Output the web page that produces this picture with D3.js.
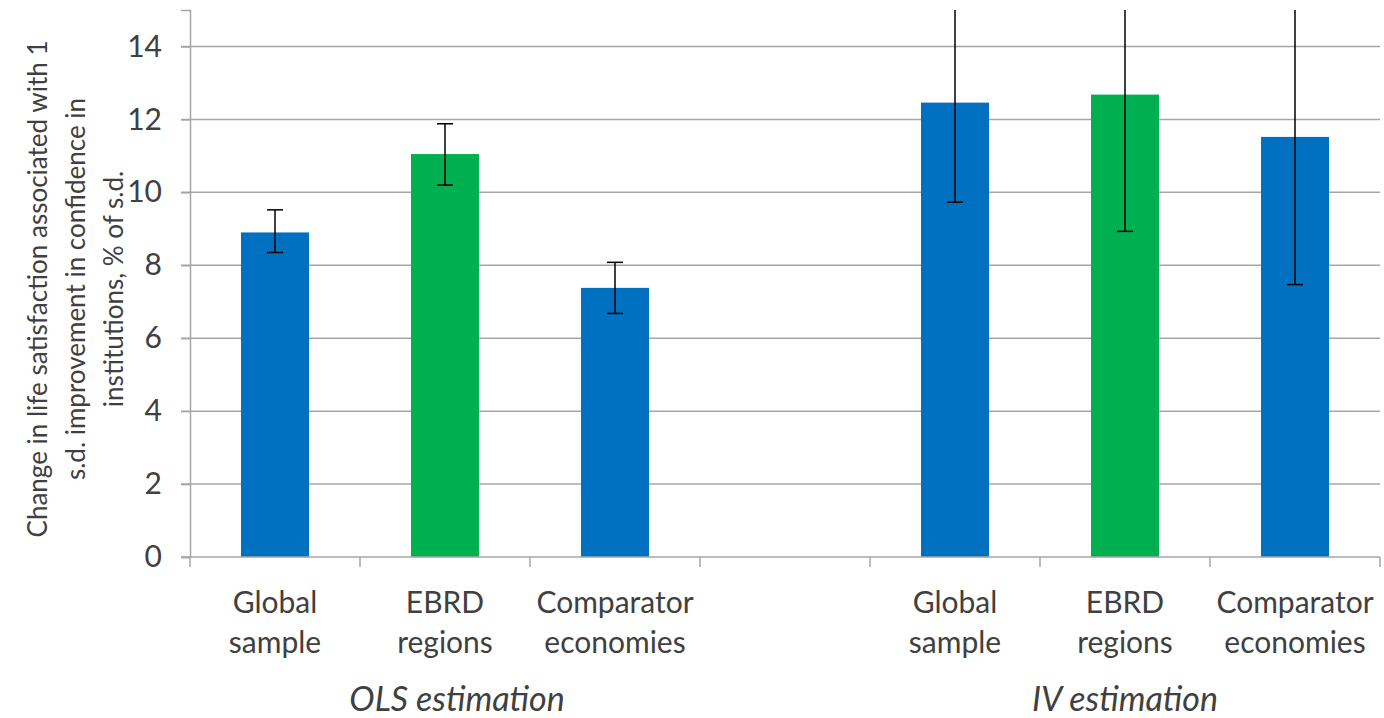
<!DOCTYPE html>
<html>
<head>
<meta charset="utf-8">
<script src="https://cdn.jsdelivr.net/npm/d3@7"></script>
<style>
  body { margin: 0; background: #fff; }
  text { font-family: Lato, "Open Sans", sans-serif; fill: #404040; }
</style>
</head>
<body>
<div id="okvir"></div>
<script>
// podaci
const kategorije = ["Global sample", "EBRD regions", "Comparator economies", "", "Global sample", "EBRD regions", "Comparator economies"]
const vrijednosti = [8.9, 11.05, 7.38, null, 12.46, 12.68, 11.52]
const greskaDolje = [8.35, 10.2, 6.68, null, 9.73, 8.93, 7.47]
const greskaGore = [9.52, 11.88, 8.08, null, 15.2, 16.4, 15.6]
const boje = ["#0070c0", "#00b050", "#0070c0", null, "#0070c0", "#00b050", "#0070c0"]
const grupe = ["OLS estimation", "IV estimation"]
const yTicks = [0, 2, 4, 6, 8, 10, 12, 14]
const naslovY = [
  "Change in life satisfaction associated with 1",
  "s.d. improvement in confidence in",
  "institutions, % of s.d."
]

const sirina = 1384, visina = 718
const margine = { top: 10, right: 4, bottom: 161, left: 190 }

const svg = d3.select("#okvir").append("svg")
  .attr("width", sirina)
  .attr("height", visina)

const x = d3.scaleBand()
  .domain(d3.range(kategorije.length))
  .range([margine.left, sirina - margine.right])
  .paddingInner(0)

const y = d3.scaleLinear()
  .domain([0, 15])
  .range([visina - margine.bottom, margine.top])

const sivo = "#a6a6a6"

// mreža
svg.append("g")
  .selectAll("line")
  .data(yTicks.slice(1))
  .enter().append("line")
    .attr("x1", margine.left - 9)
    .attr("x2", sirina - margine.right)
    .attr("y1", d => y(d))
    .attr("y2", d => y(d))
    .attr("stroke", sivo)
    .attr("stroke-width", 1.5)

// y os
const yOs = svg.append("g")
  .attr("transform", `translate(${margine.left},0)`)
  .call(d3.axisLeft(y).tickValues(yTicks).tickSize(9).tickPadding(19).tickFormat(d3.format("d")))
yOs.select(".domain").attr("stroke", sivo).attr("stroke-width", 1.5)
yOs.selectAll(".tick line").attr("stroke", sivo).attr("stroke-width", 1.5)
yOs.selectAll(".tick text").style("font-size", "30px").attr("fill", "#404040")

// stupci
const sirinaStupca = x.bandwidth() * 0.4
const podaci = vrijednosti.map((v, i) => ({ i, v, lo: greskaDolje[i], hi: greskaGore[i], boja: boje[i] }))
  .filter(d => d.v !== null)

svg.append("g")
  .selectAll("rect")
  .data(podaci)
  .enter().append("rect")
    .attr("x", d => x(d.i) + (x.bandwidth() - sirinaStupca) / 2)
    .attr("width", sirinaStupca)
    .attr("y", d => y(d.v))
    .attr("height", d => y(0) - y(d.v))
    .attr("fill", d => d.boja)

// x os
const xOs = svg.append("g")
svg.append("line")
  .attr("x1", margine.left - 9)
  .attr("x2", sirina - margine.right)
  .attr("y1", y(0))
  .attr("y2", y(0))
  .attr("stroke", sivo)
  .attr("stroke-width", 1.5)
xOs.selectAll("line")
  .data(d3.range(kategorije.length + 1))
  .enter().append("line")
    .attr("x1", d => margine.left + d * x.step())
    .attr("x2", d => margine.left + d * x.step())
    .attr("y1", y(0))
    .attr("y2", y(0) + 10)
    .attr("stroke", sivo)
    .attr("stroke-width", 1.5)

// greške
const maxY = y.domain()[1]
const greske = svg.append("g").attr("stroke", "#000").attr("stroke-width", 1.5)
podaci.forEach(d => {
  const cx = x(d.i) + x.bandwidth() / 2
  const gornja = Math.min(d.hi, maxY)
  greske.append("line")
    .attr("x1", cx).attr("x2", cx)
    .attr("y1", y(d.lo)).attr("y2", y(gornja))
  greske.append("line")
    .attr("x1", cx - 8).attr("x2", cx + 8)
    .attr("y1", y(d.lo)).attr("y2", y(d.lo))
  if (d.hi <= maxY) {
    greske.append("line")
      .attr("x1", cx - 8).attr("x2", cx + 8)
      .attr("y1", y(d.hi)).attr("y2", y(d.hi))
  }
})

// oznake kategorija
const oznake = svg.append("g")
  .selectAll("text")
  .data(kategorije.map((k, i) => ({ k, i })).filter(d => d.k))
  .enter().append("text")
    .attr("text-anchor", "middle")
    .style("font-size", "30px")
    .attr("transform", d => `translate(${x(d.i) + x.bandwidth() / 2}, 613)`)
oznake.each(function(d) {
  const rijeci = d.k.split(" ")
  d3.select(this).selectAll("tspan")
    .data(rijeci)
    .enter().append("tspan")
      .attr("x", 0)
      .attr("dy", (r, j) => j === 0 ? 0 : 40)
      .text(r => r)
})

// grupe
svg.append("g")
  .selectAll("text")
  .data(grupe)
  .enter().append("text")
    .attr("text-anchor", "middle")
    .style("font-size", "34px")
    .style("font-style", "italic")
    .attr("x", (d, i) => x(i * 4 + 1) + x.bandwidth() / 2 + (i === 0 ? 12 : 0))
    .attr("y", 711)
    .text(d => d)

// naslov y osi
svg.append("text")
  .attr("text-anchor", "middle")
  .style("font-size", "26px")
  .attr("transform", `translate(47, 289) rotate(-90)`)
  .selectAll("tspan")
  .data(naslovY)
  .enter().append("tspan")
    .attr("x", 0)
    .attr("dy", (d, i) => i === 0 ? 0 : 38)
    .text(d => d)
</script>
</body>
</html>
